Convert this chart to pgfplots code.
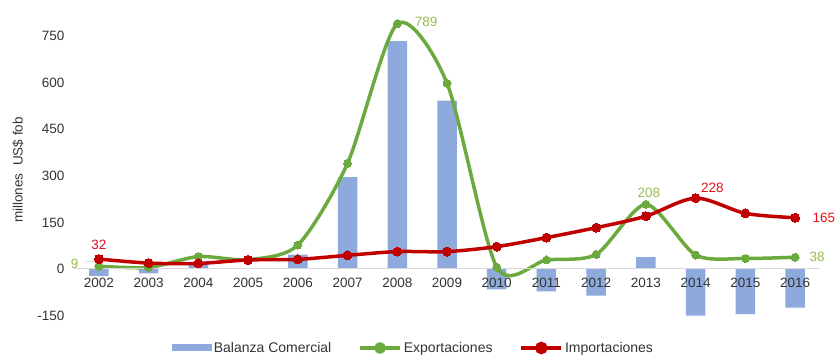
\documentclass[border=0pt]{standalone}
\usepackage{pgfplots}
\pgfplotsset{compat=1.18}
\usepackage{fontspec}
\setmainfont{Liberation Sans}

\definecolor{barblue}{HTML}{8EA9DB}
\definecolor{expgreen}{HTML}{6BAA3E}
\definecolor{impred}{HTML}{C00000}
\definecolor{lblgreen}{HTML}{94BC4F}
\definecolor{lblred}{HTML}{E0101A}
\definecolor{zeroline}{HTML}{D9D9D9}
\definecolor{ticktext}{HTML}{333333}

\begin{document}
\begin{tikzpicture}
\useasboundingbox (0,0) rectangle (836pt,356pt);
\begin{axis}[
  at={(74pt,40.4pt)}, anchor=south west,
  scale only axis, width=746pt, height=301.4pt,
  xmin=-0.5, xmax=14.5, ymin=-150, ymax=820,
  axis x line=middle, axis y line=left,
  axis on top,
  hide obscured x ticks=false, hide obscured y ticks=false,
  x axis line style={-, draw=zeroline, line width=1pt},
  y axis line style={draw=none},
  xtick={0,...,14},
  xticklabels={2002,2003,2004,2005,2006,2007,2008,2009,2010,2011,2012,2013,2014,2015,2016},
  ytick={-150,0,150,300,450,600,750},
  major tick length=0pt,
  tick style={draw=none},
  /pgf/number format/assume math mode=true,
  /pgf/number format/1000 sep={},
  ticklabel style={font=\fontsize{13.5}{14}\selectfont, text=ticktext},
  xticklabel style={yshift=-6pt},
  yticklabel style={xshift=-6pt},
  ylabel={millones\ \ US\$ fob},
  ylabel style={at={(axis description cs:-0.075,0.483)}, anchor=center,
    font=\fontsize{13.5}{14}\selectfont, text=ticktext},
  clip=false,
  legend columns=3,
  legend style={at={(0.455,-0.1075)}, anchor=center, draw=none, fill=none,
    font=\fontsize{14}{15}\selectfont, text=ticktext,
    /tikz/every even column/.append style={column sep=25pt}},
  legend cell align=left,
]
% trade balance (bars)
\addplot[ybar, bar width=19.5pt, fill=barblue, draw=none,
  legend image code/.code={\fill[barblue] (0pt,-3.5pt) rectangle (40pt,4pt);}]
  coordinates {(0,-23) (1,-14) (2,22) (3,1) (4,46) (5,296) (6,733) (7,542)
               (8,-66) (9,-72) (10,-86) (11,38) (12,-150) (13,-145) (14,-124)};
\addlegendentry{Balanza Comercial}
% exports
\addplot[expgreen, line width=3.5pt, smooth, tension=0.45, mark=*, mark size=4pt,
  mark options={fill=expgreen, draw=expgreen, line width=0pt, solid},
  legend image code/.code={\draw[expgreen, line width=3.5pt] (0pt,0pt)--(40pt,0pt);
    \fill[expgreen] (20pt,0pt) circle (4pt);}]
  coordinates {(0,9) (1,5) (2,40) (3,30) (4,77) (5,340) (6,789) (7,598)
               (8,6) (9,29) (10,47) (11,208) (12,45) (13,34) (14,38)};
\addlegendentry{Exportaciones}
% imports
\addplot[impred, line width=3.5pt, smooth, tension=0.5, mark=*, mark size=4.5pt,
  mark options={fill=impred, draw=impred, line width=0pt, solid},
  legend image code/.code={\draw[impred, line width=3.5pt] (0pt,0pt)--(40pt,0pt);
    \fill[impred] (20pt,0pt) circle (4.5pt);}]
  coordinates {(0,32) (1,19) (2,18) (3,29) (4,31) (5,44) (6,56) (7,56)
               (8,72) (9,101) (10,133) (11,170) (12,228) (13,179) (14,165)};
\addlegendentry{Importaciones}

% value labels
\begin{scope}[font=\fontsize{13.5}{14}\selectfont]
\draw[zeroline, line width=1.2pt] (axis cs:0,9) ++(-13pt,5pt) -- ++(11pt,0pt);
\node[text=lblred, anchor=south] at (axis cs:0,32) [yshift=6pt] {32};
\node[text=lblgreen, anchor=east] at (axis cs:0,9) [xshift=-17pt, yshift=2pt] {9};
\node[text=lblgreen, anchor=west] at (axis cs:6,789) [xshift=14pt, yshift=2pt] {789};
\node[text=lblgreen, anchor=south] at (axis cs:11,208) [xshift=3pt, yshift=3pt] {208};
\node[text=lblred, anchor=south west] at (axis cs:12,228) [xshift=2pt, yshift=2pt] {228};
\node[text=lblred, anchor=west] at (axis cs:14,165) [xshift=14pt] {165};
\node[text=lblgreen, anchor=west] at (axis cs:14,38) [xshift=11pt] {38};
\end{scope}
\end{axis}
\end{tikzpicture}
\end{document}
